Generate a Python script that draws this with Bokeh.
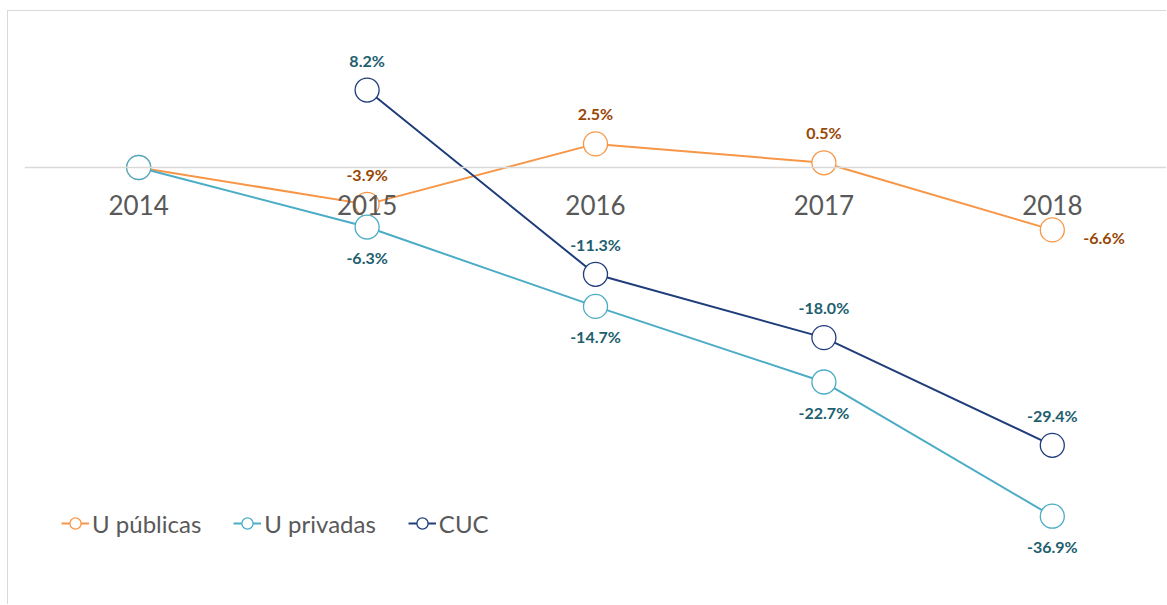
from bokeh.plotting import figure
from bokeh.models import ColumnDataSource, Span, Legend, LegendItem, Range1d, FactorRange
from bokeh.core.properties import value
from bokeh.embed import file_html
from bokeh.resources import INLINE

years = ["2014", "2015", "2016", "2017", "2018"]
publicas = [0.0, -3.9, 2.5, 0.5, -6.6]
privadas = [0.0, -6.3, -14.7, -22.7, -36.9]
cuc_years = ["2015", "2016", "2017", "2018"]
cuc = [8.2, -11.3, -18.0, -29.4]

# label placement per series: "above", "below", "right", or None
pub_pos = [None, "above", "above", "above", "right"]
priv_pos = [None, "below", "below", "below", "below"]
cuc_pos = ["above", "above", "above", "above"]

ORANGE = "#F79646"
TEAL = "#4BACC6"
NAVY = "#1F3D7A"
ORANGE_LBL = "#974706"
TEAL_LBL = "#215E6E"
GREY = "#595959"

W, H = 1159, 594
p = figure(width=W, height=H, output_backend="svg", toolbar_location=None,
           x_range=FactorRange(factors=years, range_padding=0),
           y_range=Range1d(-46.35, 16.51),
           x_axis_location=None, y_axis_location=None,
           min_border_left=16, min_border_right=1, min_border_top=0, min_border_bottom=0)
p.styles = {"margin-left": "7px", "margin-top": "10px",
            "border-left": "1px solid #D9D9D9", "border-top": "1px solid #D9D9D9"}
p.outline_line_color = None
p.xgrid.visible = False
p.ygrid.visible = False
p.background_fill_color = "white"
p.border_fill_color = "white"

p.add_layout(Span(location=0, dimension="width", line_color="#D9D9D9", line_width=1.3))

def series(xs, ys, color):
    src = ColumnDataSource(dict(x=xs, y=ys))
    ln = p.line("x", "y", source=src, line_color=color, line_width=2)
    sc = p.scatter("x", "y", source=src, size=24, line_color=color, line_width=1.3,
                   fill_color="white")
    return ln, sc

r_pub = series(years, publicas, ORANGE)
r_priv = series(years, privadas, TEAL)
r_cuc = series(cuc_years, cuc, NAVY)

def labels(xs, ys, pos, color):
    lx, ly, lt, xo, yo, al = [], [], [], [], [], []
    for x, y, ps in zip(xs, ys, pos):
        if ps is None:
            continue
        lx.append(x); ly.append(y); lt.append(f"{y:.1f}%")
        if ps == "above":
            xo.append(0); yo.append(-30); al.append("center")
        elif ps == "below":
            xo.append(0); yo.append(30); al.append("center")
        else:
            xo.append(31); yo.append(8); al.append("left")
    src = ColumnDataSource(dict(x=lx, y=ly, t=lt, xo=xo, yo=yo, al=al))
    p.text("x", "y", text="t", source=src, x_offset="xo", y_offset="yo",
           text_align="al", text_baseline="middle", text_color=color,
           text_font=value("Lato"), text_font_style="bold", text_font_size="16px")

labels(years, publicas, pub_pos, ORANGE_LBL)
labels(years, privadas, priv_pos, TEAL_LBL)
labels(cuc_years, cuc, cuc_pos, TEAL_LBL)

# category (year) labels along the zero line
ysrc = ColumnDataSource(dict(x=years, y=[0] * len(years), t=years))
p.text("x", "y", text="t", source=ysrc, y_offset=37, text_align="center",
       text_baseline="middle", text_color=GREY, text_font=value("Lato"),
       text_font_size="26px")

legend = Legend(items=[
    LegendItem(label="U públicas", renderers=list(r_pub)),
    LegendItem(label="U privadas", renderers=list(r_priv)),
    LegendItem(label="CUC", renderers=list(r_cuc)),
], orientation="horizontal", location=(37, 66), padding=0, margin=0, spacing=32,
    glyph_width=28, glyph_height=32, label_standoff=3,
    label_text_font="Lato", label_text_font_size="24px", label_text_color=GREY,
    border_line_color=None, background_fill_alpha=0)
p.add_layout(legend)

open("out.html", "w").write(file_html(p, INLINE))
